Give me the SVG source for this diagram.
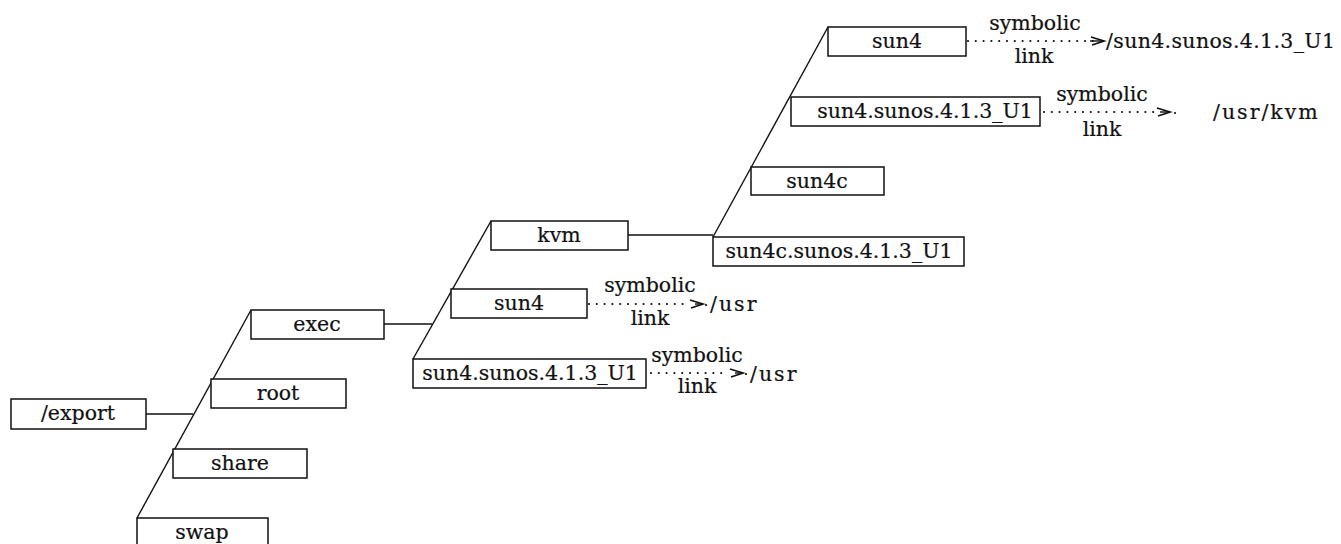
<svg xmlns="http://www.w3.org/2000/svg" width="1341" height="544" viewBox="0 0 1341 544">
<style>
.box{fill:#fff;stroke:#111;stroke-width:1.5}
.t{font-family:"DejaVu Serif","Liberation Serif",serif;font-size:20.5px;fill:#111;stroke:#111;stroke-width:0.2;text-anchor:middle}
.ts{font-family:"DejaVu Serif","Liberation Serif",serif;font-size:20.5px;fill:#111;stroke:#111;stroke-width:0.2}
.sp{letter-spacing:2px}
.ln{fill:none;stroke:#111;stroke-width:1.4}
.dot{fill:none;stroke:#111;stroke-width:2.2;stroke-linecap:round;stroke-dasharray:0 7.8}
</style>
<defs>
<marker id="arr" markerUnits="userSpaceOnUse" markerWidth="16" markerHeight="12" refX="13" refY="5" orient="auto" overflow="visible">
<path d="M0,1 L13,5 L1,9" fill="none" stroke="#111" stroke-width="1.7"/>
</marker>
</defs>
<rect width="1341" height="544" fill="#fff"/>
<g id="connectors">
<path class="ln" d="M146,414 H193"/>
<path class="ln" d="M137,518 L251,310"/>
<path class="ln" d="M384,324 H432"/>
<path class="ln" d="M413,359 L491,221"/>
<path class="ln" d="M628,235 H713"/>
<path class="ln" d="M713,237 L828,27"/>
<path class="dot" d="M968,41 H1093"/>
<path class="ln" d="M1090,41 H1104" stroke="none" marker-end="url(#arr)"/>
<path class="dot" d="M1044,112 H1160"/>
<path class="ln" d="M1160,112 H1170" stroke="none" marker-end="url(#arr)"/>
<path class="dot" d="M1175,113 H1176"/>
<path class="dot" d="M589,304 H690"/>
<path class="ln" d="M695,304 H703" stroke="none" marker-end="url(#arr)"/>
<path class="dot" d="M706,305 H707"/>
<path class="dot" d="M651,373 H729"/>
<path class="ln" d="M735,373 H743" stroke="none" marker-end="url(#arr)"/>
<path class="dot" d="M746,374 H747"/>
</g>
<g id="link-labels">
<text class="t" x="1035" y="30">symbolic</text>
<text class="t" x="1034" y="63">link</text>
<text class="ts" x="1106" y="48" textLength="229">/sun4.sunos.4.1.3_U1</text>
<text class="t" x="1102" y="101">symbolic</text>
<text class="t" x="1102" y="136">link</text>
<text class="ts sp" x="1213" y="119">/usr/kvm</text>
<text class="t" x="650" y="292">symbolic</text>
<text class="t" x="650" y="325">link</text>
<text class="ts sp" x="710" y="311">/usr</text>
<text class="t" x="697" y="362">symbolic</text>
<text class="t" x="697" y="393">link</text>
<text class="ts sp" x="750" y="381">/usr</text>
</g>
<g id="export"><rect class="box" x="11" y="399" width="135" height="30"/><text class="t" x="78" y="420">/export</text></g>
<g id="exec"><rect class="box" x="251" y="310" width="133" height="29"/><text class="t" x="317" y="331">exec</text></g>
<g id="root"><rect class="box" x="211" y="379" width="135" height="29"/><text class="t" x="278" y="400">root</text></g>
<g id="share"><rect class="box" x="173" y="449" width="134" height="29"/><text class="t" x="240" y="470">share</text></g>
<g id="swap"><rect class="box" x="137" y="518" width="131" height="30"/><text class="t" x="202" y="539">swap</text></g>
<g id="kvm"><rect class="box" x="491" y="221" width="137" height="29"/><text class="t" x="559" y="242">kvm</text></g>
<g id="exec-sun4"><rect class="box" x="451" y="289" width="136" height="29"/><text class="t" x="519" y="310">sun4</text></g>
<g id="exec-sun4-sunos"><rect class="box" x="413" y="359" width="233" height="29"/><text class="t" x="530" y="380">sun4.sunos.4.1.3_U1</text></g>
<g id="kvm-sun4"><rect class="box" x="828" y="27" width="138" height="29"/><text class="t" x="897" y="48">sun4</text></g>
<g id="kvm-sun4-sunos"><rect class="box" x="791" y="97" width="249" height="29"/><text class="t" x="925" y="118">sun4.sunos.4.1.3_U1</text></g>
<g id="kvm-sun4c"><rect class="box" x="751" y="167" width="133" height="28"/><text class="t" x="817" y="188">sun4c</text></g>
<g id="kvm-sun4c-sunos"><rect class="box" x="713" y="237" width="251" height="29"/><text class="t" x="839" y="258">sun4c.sunos.4.1.3_U1</text></g>
</svg>
